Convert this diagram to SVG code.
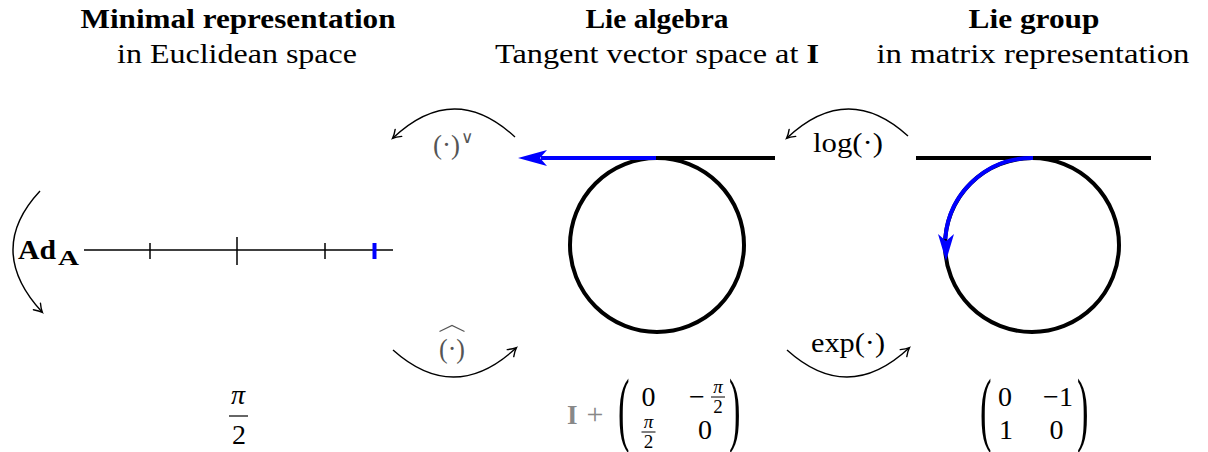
<svg xmlns="http://www.w3.org/2000/svg" width="1208" height="452" viewBox="0 0 1208 452">
<style>
text{font-family:"Liberation Serif","Times New Roman",serif;fill:#000}
.h1{font-size:28px;font-weight:bold;text-anchor:middle}
.h2{font-size:28px;text-anchor:middle}
.m{font-size:28px}
.mt{font-size:28px;text-anchor:middle}
.fr{font-size:19px;text-anchor:middle}
.gr{fill:#555}
.thick{fill:none;stroke:#000;stroke-width:4}
.thin{fill:none;stroke:#000;stroke-width:1.5}
.arc{fill:none;stroke:#000;stroke-width:1.4}
.blue{fill:none;stroke:#0000ff;stroke-width:4}
.bh{fill:#0000ff;stroke:none}
.bar{stroke:#000;stroke-width:1}
</style>
<defs>
<marker id="ah" markerUnits="userSpaceOnUse" markerWidth="16" markerHeight="16" viewBox="-10 -8 16 16" refX="0" refY="0" orient="auto" overflow="visible">
<path d="M-7.5,-4.8 Q-2.8,-1.2 0.6,0 Q-2.8,1.2 -7.5,4.8" fill="none" stroke="#000" stroke-width="1.4" stroke-linecap="round"/>
</marker>
</defs>

<g id="minimal">
<text class="h1" x="238" y="28" textLength="315" lengthAdjust="spacingAndGlyphs">Minimal representation</text>
<text class="h2" x="237" y="63" textLength="240" lengthAdjust="spacingAndGlyphs">in Euclidean space</text>
<line class="thin" x1="84" y1="250" x2="393" y2="250"/>
<line class="thin" x1="150" y1="243" x2="150" y2="259"/>
<line class="thin" x1="237" y1="237" x2="237" y2="265"/>
<line class="thin" x1="325" y1="243" x2="325" y2="259"/>
<line x1="374.5" y1="243" x2="374.5" y2="259" stroke="#0000ff" stroke-width="4"/>
<text x="18" y="259" font-size="28" font-weight="bold" textLength="38" lengthAdjust="spacingAndGlyphs">Ad</text>
<text x="58" y="265" font-size="21" font-weight="bold" textLength="21" lengthAdjust="spacingAndGlyphs">A</text>
<text x="238" y="404" font-size="28" text-anchor="middle" font-style="italic">π</text>
<line x1="229" y1="416" x2="248" y2="416" stroke="#000" stroke-width="1.2"/>
<text x="239" y="444" font-size="28" text-anchor="middle">2</text>
</g>

<g id="algebra">
<text class="h1" x="657" y="28" textLength="143" lengthAdjust="spacingAndGlyphs">Lie algebra</text>
<text class="h2" x="657" y="63" textLength="324" lengthAdjust="spacingAndGlyphs">Tangent vector space at <tspan font-weight="bold">I</tspan></text>
<circle class="thick" cx="657" cy="245" r="87"/>
<line class="thick" x1="655" y1="158" x2="775" y2="158"/>
<line class="blue" x1="541" y1="158" x2="656" y2="158"/>
<polygon class="bh" points="518,158 547,150 540,158 547,166"/>
<text x="567" y="424" font-size="27" font-weight="bold" style="fill:#888">I</text>
<text x="595" y="424" font-size="30" text-anchor="middle" style="fill:#888">+</text>
<text transform="translate(618,435.5) scale(0.42,1)" font-size="82">(</text>
<text class="mt" x="648.5" y="406">0</text>
<text class="mt" x="697" y="406">−</text>
<text class="fr" x="718" y="393" font-style="italic">π</text>
<line class="bar" x1="711" y1="397" x2="725" y2="397"/>
<text class="fr" x="718" y="413">2</text>
<text class="fr" x="648.5" y="428" font-style="italic">π</text>
<line class="bar" x1="641.5" y1="432" x2="655.5" y2="432"/>
<text class="fr" x="648.5" y="448">2</text>
<text class="mt" x="705" y="439">0</text>
<text transform="translate(729,435.5) scale(0.42,1)" font-size="82">)</text>
</g>

<g id="group">
<text class="h1" x="1034" y="28" textLength="131" lengthAdjust="spacingAndGlyphs">Lie group</text>
<text class="h2" x="1033" y="63" textLength="313" lengthAdjust="spacingAndGlyphs">in matrix representation</text>
<circle class="thick" cx="1032" cy="245" r="87"/>
<line class="thick" x1="916" y1="158" x2="1151" y2="158"/>
<path class="blue" d="M1033,158 A87,87 0 0 0 945.3,239"/>
<polygon class="bh" points="946,261 938,234 946,241 954,234"/>
<text transform="translate(980,435.5) scale(0.42,1)" font-size="82">(</text>
<text class="mt" x="1005" y="406">0</text>
<text class="mt" x="1058" y="406">−1</text>
<text class="mt" x="1006" y="439">1</text>
<text class="mt" x="1056.5" y="439">0</text>
<text transform="translate(1077,435.5) scale(0.42,1)" font-size="82">)</text>
</g>

<g id="connectors">
<path class="arc" d="M40,191 Q-15,250 42,312" marker-end="url(#ah)"/>
<path class="arc" d="M515,137 Q454,80.5 393,138" marker-end="url(#ah)"/>
<path class="arc" d="M908,136 Q847.5,81 787,138" marker-end="url(#ah)"/>
<path class="arc" d="M393,350 Q454.5,405 516,348" marker-end="url(#ah)"/>
<path class="arc" d="M787,350 Q848,405 909,348" marker-end="url(#ah)"/>
<text class="m gr" x="433" y="154" textLength="27" lengthAdjust="spacingAndGlyphs">(·)</text>
<text class="gr" x="461" y="143" font-size="17" style="font-family:'DejaVu Sans',sans-serif">∨</text>
<text class="m gr" x="439" y="358" textLength="26" lengthAdjust="spacingAndGlyphs">(·)</text>
<path d="M439.5,331.5 L452,325.5 L464.5,331.5" fill="none" stroke="#555" stroke-width="1.2"/>
<text class="m" x="813" y="152" textLength="70" lengthAdjust="spacingAndGlyphs">log(·)</text>
<text class="m" x="811" y="352" textLength="74" lengthAdjust="spacingAndGlyphs">exp(·)</text>
</g>
</svg>
